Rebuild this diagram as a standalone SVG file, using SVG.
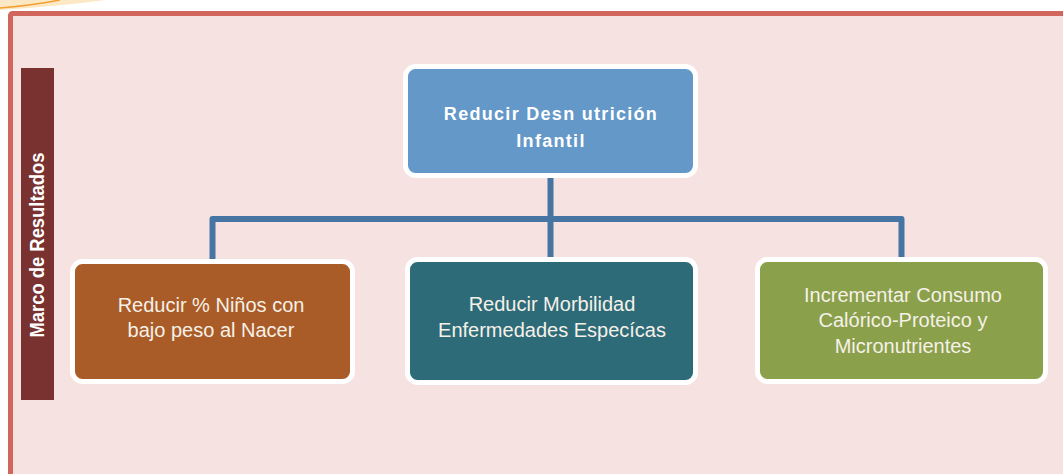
<svg xmlns="http://www.w3.org/2000/svg" width="1063" height="474" viewBox="0 0 1063 474">
<style>
.box{stroke:#ffffff;stroke-width:5}
.lbl{font-family:"Liberation Sans",Arial,sans-serif;font-size:20px;fill:#f6f1e8;text-anchor:middle}
.title{font-family:"Liberation Sans",Arial,sans-serif;font-size:18px;font-weight:bold;fill:#ffffff;text-anchor:middle;letter-spacing:1.3px}
.conn{fill:none;stroke:#4775a3;stroke-width:6;stroke-linejoin:round}
</style>
<rect x="0" y="0" width="1063" height="474" fill="#ffffff"/>
<path d="M0,0 L105,0 Q60,6 0,10 Z" fill="#fde8c6"/>
<path d="M0,8 Q35,5 60,0" fill="none" stroke="#f0a030" stroke-width="1.5"/>
<rect x="10.5" y="13.5" width="1100" height="500" rx="2" fill="#f6e2e1" stroke="#d0665c" stroke-width="5"/>
<g id="sidebar">
<rect x="21" y="68" width="33" height="332" fill="#7a3230"/>
<text transform="translate(43.5,245) rotate(-90)" font-family="'Liberation Sans',Arial,sans-serif" font-size="20" font-weight="bold" fill="#ffffff" text-anchor="middle" textLength="185" lengthAdjust="spacingAndGlyphs">Marco de Resultados</text>
</g>
<g id="connectors">
<path class="conn" d="M212.5,262 V219 H901.5 V260"/>
<path class="conn" d="M550.5,176 V262"/>
</g>
<g id="node-top">
<rect class="box" x="405.5" y="66.5" width="290" height="109" rx="10" fill="#6398c9"/>
<text class="title" x="551" y="120">Reducir Desn utrición</text>
<text class="title" x="551" y="147">Infantil</text>
</g>
<g id="node-left">
<rect class="box" x="72.5" y="261.5" width="280" height="120" rx="10" fill="#a95c27"/>
<text class="lbl" x="211" y="312">Reducir % Niños con</text>
<text class="lbl" x="211" y="337">bajo peso al Nacer</text>
</g>
<g id="node-middle">
<rect class="box" x="407.5" y="259.5" width="288" height="123" rx="10" fill="#2d6b78"/>
<text class="lbl" x="552" y="311">Reducir Morbilidad</text>
<text class="lbl" x="552" y="337">Enfermedades Especícas</text>
</g>
<g id="node-right">
<rect class="box" x="757.5" y="259.5" width="288" height="122" rx="10" fill="#8aa04b"/>
<text class="lbl" x="903" y="302">Incrementar Consumo</text>
<text class="lbl" x="903" y="327">Calórico-Proteico y</text>
<text class="lbl" x="903" y="353">Micronutrientes</text>
</g>
</svg>
